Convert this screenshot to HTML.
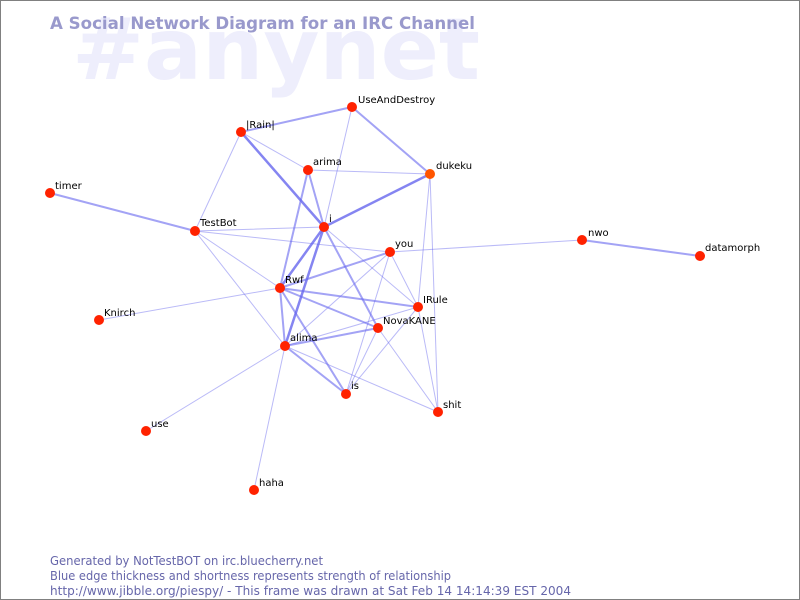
<!DOCTYPE html>
<html><head><style>
body{margin:0;width:800px;height:600px;overflow:hidden;background:#fff}
svg{display:block}
text{font-family:"DejaVu Sans","Liberation Sans",sans-serif}
</style></head><body>
<svg width="800" height="600" viewBox="0 0 800 600">
<rect x="0.5" y="0.5" width="799" height="599" fill="#fff" stroke="#808080"/>
<text x="72" y="79" font-size="86" font-weight="bold" fill="#eeeefc">#anynet</text>
<text x="50" y="29" font-size="17" font-weight="bold" fill="#9999cc" textLength="425" lengthAdjust="spacingAndGlyphs">A Social Network Diagram for an IRC Channel</text>
<g stroke="#6666ee" stroke-linecap="round">
<g stroke-width="1" stroke-opacity="0.45">
<line x1="241" y1="132" x2="308" y2="170"/>
<line x1="241" y1="132" x2="195" y2="231"/>
<line x1="352" y1="107" x2="324" y2="227"/>
<line x1="308" y1="170" x2="430" y2="174"/>
<line x1="430" y1="174" x2="418" y2="307"/>
<line x1="430" y1="174" x2="438" y2="412"/>
<line x1="195" y1="231" x2="324" y2="227"/>
<line x1="195" y1="231" x2="390" y2="252"/>
<line x1="195" y1="231" x2="285" y2="346"/>
<line x1="195" y1="231" x2="280" y2="288"/>
<line x1="324" y1="227" x2="418" y2="307"/>
<line x1="390" y1="252" x2="582" y2="240"/>
<line x1="390" y1="252" x2="285" y2="346"/>
<line x1="390" y1="252" x2="346" y2="394"/>
<line x1="390" y1="252" x2="418" y2="307"/>
<line x1="280" y1="288" x2="99" y2="320"/>
<line x1="285" y1="346" x2="418" y2="307"/>
<line x1="285" y1="346" x2="438" y2="412"/>
<line x1="285" y1="346" x2="146" y2="431"/>
<line x1="285" y1="346" x2="254" y2="490"/>
<line x1="378" y1="328" x2="438" y2="412"/>
<line x1="378" y1="328" x2="346" y2="394"/>
<line x1="418" y1="307" x2="346" y2="394"/>
<line x1="418" y1="307" x2="438" y2="412"/>
</g>
<g stroke-width="2" stroke-opacity="0.6">
<line x1="241" y1="132" x2="352" y2="107"/>
<line x1="352" y1="107" x2="430" y2="174"/>
<line x1="308" y1="170" x2="280" y2="288"/>
<line x1="308" y1="170" x2="324" y2="227"/>
<line x1="50" y1="193" x2="195" y2="231"/>
<line x1="324" y1="227" x2="378" y2="328"/>
<line x1="390" y1="252" x2="280" y2="288"/>
<line x1="280" y1="288" x2="418" y2="307"/>
<line x1="280" y1="288" x2="378" y2="328"/>
<line x1="280" y1="288" x2="285" y2="346"/>
<line x1="280" y1="288" x2="346" y2="394"/>
<line x1="285" y1="346" x2="378" y2="328"/>
<line x1="285" y1="346" x2="346" y2="394"/>
<line x1="582" y1="240" x2="700" y2="256"/>
</g>
<g stroke-width="2.5" stroke-opacity="0.8">
<line x1="430" y1="174" x2="324" y2="227"/>
<line x1="241" y1="132" x2="324" y2="227"/>
<line x1="324" y1="227" x2="280" y2="288"/>
<line x1="324" y1="227" x2="285" y2="346"/>
</g>
</g>
<g fill="#ff2200">
<circle cx="352" cy="107" r="5"/><circle cx="241" cy="132" r="5"/><circle cx="308" cy="170" r="5"/>
<circle cx="430" cy="174" r="5" fill="#ff5500"/><circle cx="50" cy="193" r="5"/><circle cx="195" cy="231" r="5"/>
<circle cx="324" cy="227" r="5"/><circle cx="390" cy="252" r="5"/><circle cx="582" cy="240" r="5"/>
<circle cx="700" cy="256" r="5"/><circle cx="280" cy="288" r="5"/><circle cx="99" cy="320" r="5"/>
<circle cx="418" cy="307" r="5"/><circle cx="378" cy="328" r="5"/><circle cx="285" cy="346" r="5"/>
<circle cx="346" cy="394" r="5"/><circle cx="438" cy="412" r="5"/><circle cx="146" cy="431" r="5"/>
<circle cx="254" cy="490" r="5"/>
</g>
<g font-size="10" fill="#000">
<text x="358" y="103">UseAndDestroy</text><text x="246" y="128">|Rain|</text><text x="313" y="165">arima</text>
<text x="436" y="169">dukeku</text><text x="55" y="189">timer</text><text x="200" y="226">TestBot</text>
<text x="329" y="222">i</text><text x="395" y="247">you</text><text x="588" y="236">nwo</text>
<text x="705" y="251">datamorph</text><text x="285" y="283">Rwf</text><text x="104" y="316">Knirch</text>
<text x="423" y="303">IRule</text><text x="383" y="324">NovaKANE</text><text x="290" y="341">alima</text>
<text x="351" y="389">is</text><text x="443" y="408">shit</text><text x="151" y="427">use</text>
<text x="259" y="486">haha</text>
</g>
<g font-size="12" fill="#6666aa">
<text x="50" y="565" textLength="273" lengthAdjust="spacingAndGlyphs">Generated by NotTestBOT on irc.bluecherry.net</text>
<text x="50" y="580" textLength="401" lengthAdjust="spacingAndGlyphs">Blue edge thickness and shortness represents strength of relationship</text>
<text x="50" y="595" textLength="521" lengthAdjust="spacingAndGlyphs">http://www.jibble.org/piespy/ - This frame was drawn at Sat Feb 14 14:14:39 EST 2004</text>
</g>
</svg>
</body></html>
